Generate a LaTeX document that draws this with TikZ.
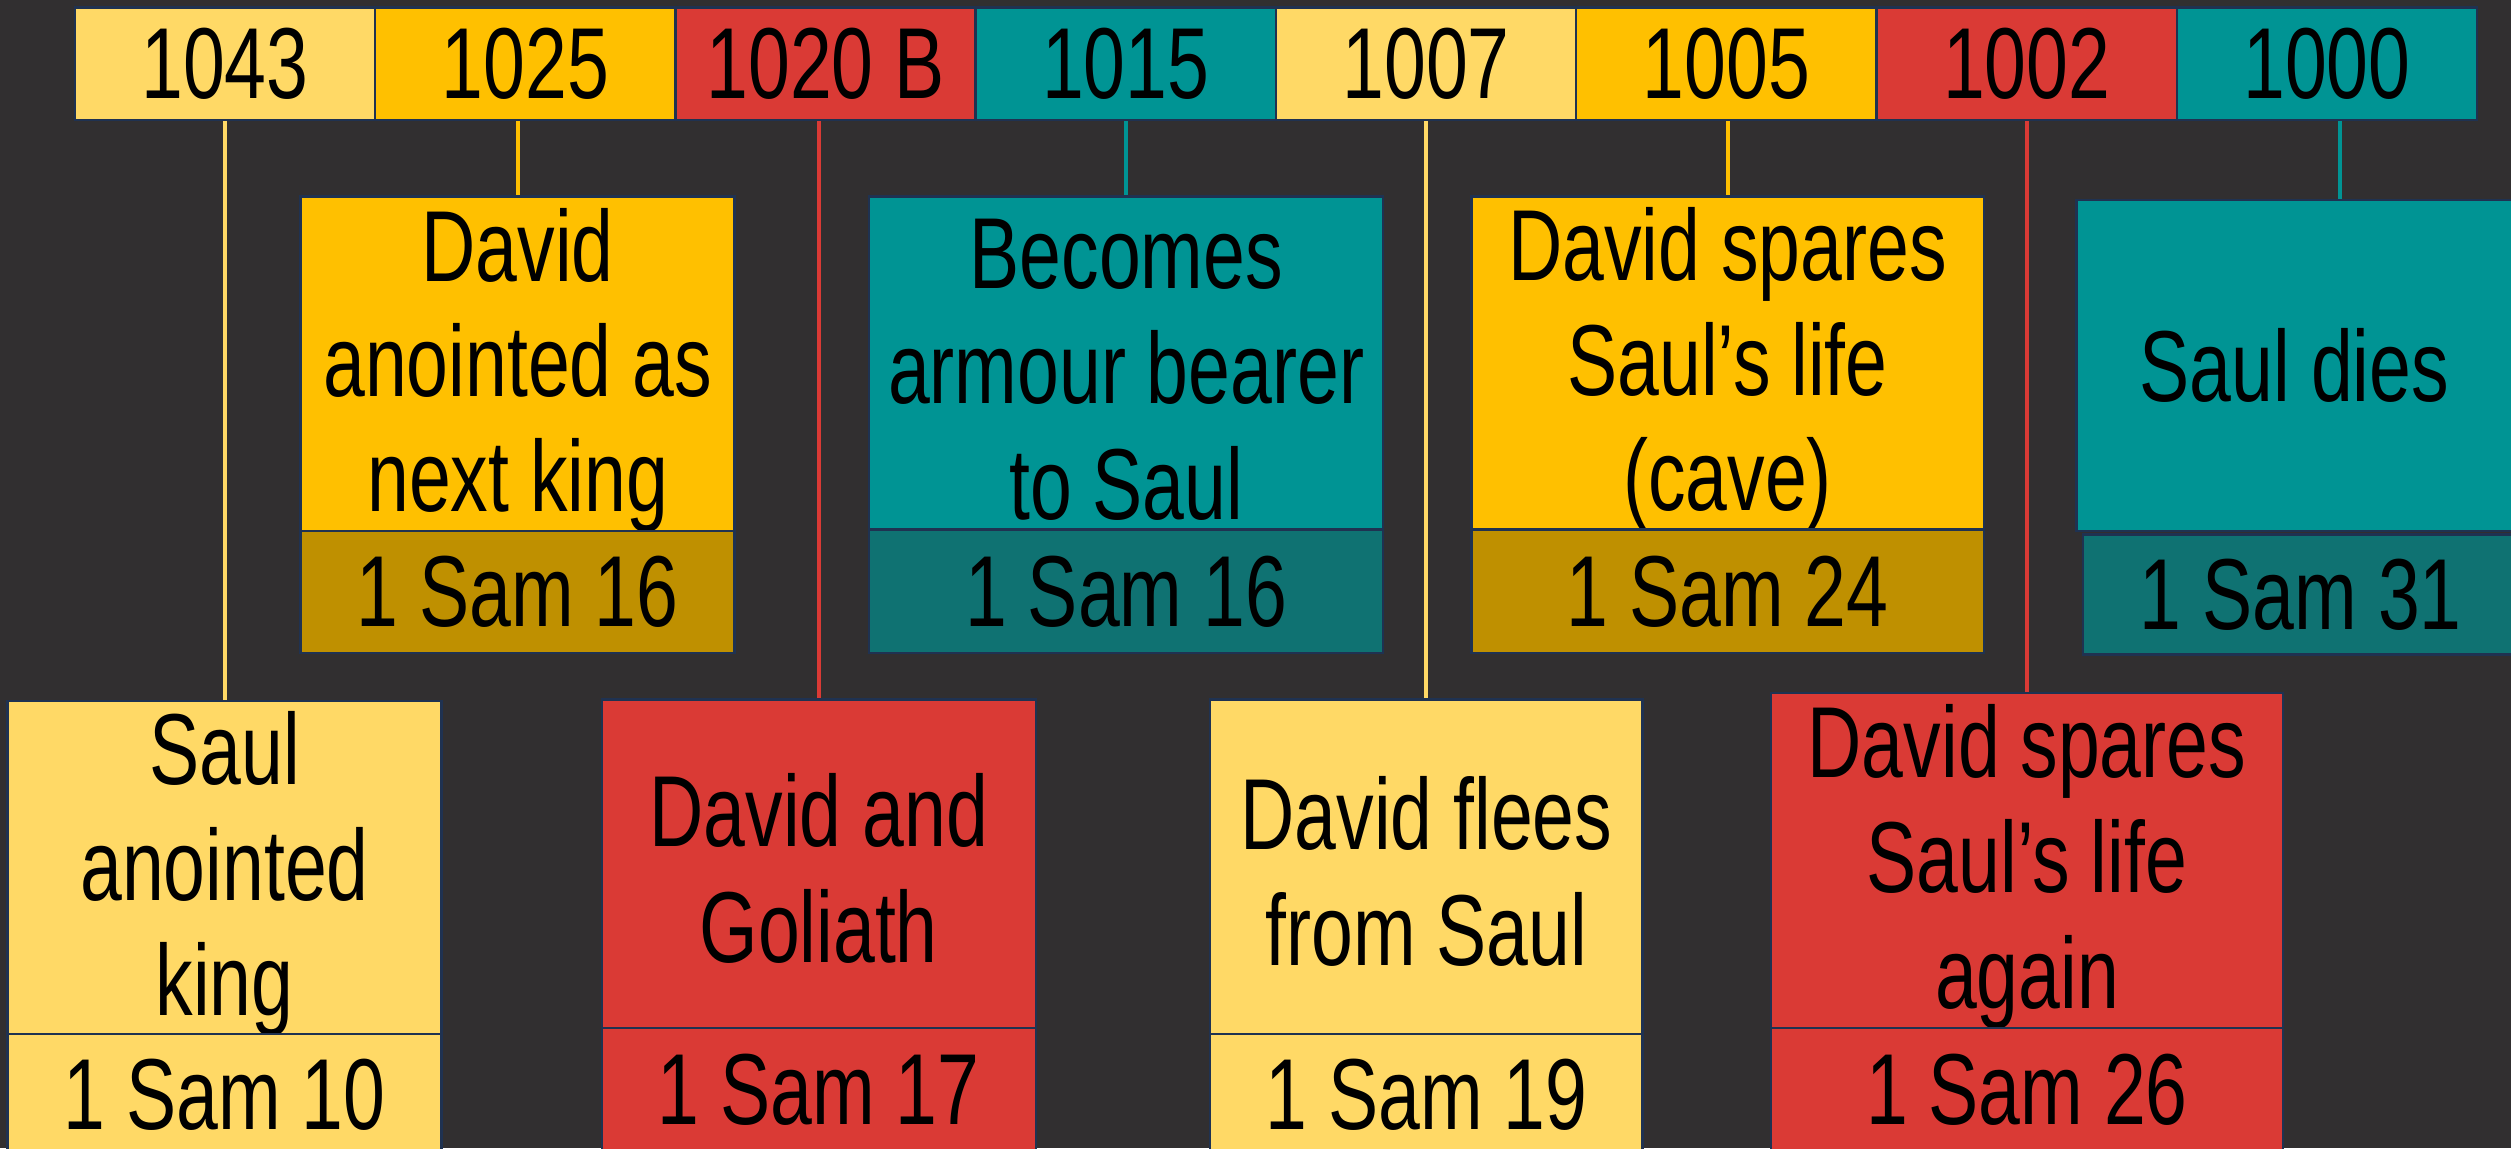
\documentclass[tikz,border=0pt]{standalone}
\usepackage{fontspec}
\setmainfont{Liberation Sans}[FakeStretch=0.745]
\definecolor{bg}{HTML}{312F30}
\definecolor{navy}{HTML}{1F3251}
\definecolor{ly}{HTML}{FFD966}
\definecolor{am}{HTML}{FFC000}
\definecolor{rd}{HTML}{DA3A35}
\definecolor{tl}{HTML}{009494}
\definecolor{dam}{HTML}{BF9000}
\definecolor{dtl}{HTML}{0F7272}
\begin{document}
\begin{tikzpicture}[x=1pt,y=-1pt,
  fnt/.style={font=\fontsize{63}{72}\selectfont, text=black},
  box/.style={draw=navy, line width=1.5pt, inner sep=0pt, anchor=north west, align=center, fnt},
  yr/.style={box, minimum width=187.5pt, minimum height=70pt},
  txt/.style={align=center, fnt, inner sep=0pt, yshift=-4pt},
  conn/.style={line width=2.5pt}]
\fill[bg] (0,0) rectangle (1568,717);
\useasboundingbox (0,0) rectangle (1568,717);

% top bar
\node[yr, fill=ly] (t1043) at (46,4) {1043};
\node[yr, fill=am] (t1025) at (233.5,4) {1025};
\node[yr, fill=rd] (t1020) at (421,4) {1020 B};
\node[yr, fill=tl] (t1015) at (608.5,4) {1015};
\node[yr, fill=ly] (t1007) at (796,4) {1007};
\node[yr, fill=am] (t1005) at (983.5,4) {1005};
\node[yr, fill=rd] (t1002) at (1171,4) {1002};
\node[yr, fill=tl] (t1000) at (1358.5,4) {1000};

% upper events
\node[box, fill=am, minimum width=271pt, minimum height=209pt,
  label={[txt]center:David\\anointed as\\next king}] (e1025) at (187,122) {};
\node[box, fill=dam, minimum width=271pt, minimum height=76pt] (r1025) at (187,331) {1 Sam 16};
\node[box, fill=tl, minimum width=321pt, minimum height=208pt,
  label={[txt]center:Becomes\\armour bearer\\to Saul}] (e1015) at (542,122) {};
\node[box, fill=dtl, minimum width=321pt, minimum height=77pt] (r1015) at (542,330) {1 Sam 16};
\node[box, fill=am, minimum width=320pt, minimum height=208pt,
  label={[txt]center:David spares\\Saul’s life\\(cave)}] (e1005) at (918,122) {};
\node[box, fill=dam, minimum width=320pt, minimum height=77pt] (r1005) at (918,330) {1 Sam 24};
\node[box, fill=tl, minimum width=272pt, minimum height=207pt] (e1000) at (1296,124) {Saul dies};
\node[box, fill=dtl, minimum width=272pt, minimum height=75pt] (r1000) at (1300,333) {1 Sam 31};

% lower events
\node[box, fill=ly, minimum width=271pt, minimum height=208pt,
  label={[txt]center:Saul\\anointed\\king}] (e1043) at (4,437) {};
\node[box, fill=ly, minimum width=271pt, minimum height=76pt] (r1043) at (4,645) {1 Sam 10};
\node[box, fill=rd, minimum width=271pt, minimum height=205pt,
  label={[txt,yshift=1pt]center:David and\\Goliath}] (e1020) at (375,436) {};
\node[box, fill=rd, minimum width=271pt, minimum height=78pt] (r1020) at (375,641) {1 Sam 17};
\node[box, fill=ly, minimum width=270pt, minimum height=209pt,
  label={[txt,yshift=1pt]center:David flees\\from Saul}] (e1007) at (755,436) {};
\node[box, fill=ly, minimum width=270pt, minimum height=76pt] (r1007) at (755,645) {1 Sam 19};
\node[box, fill=rd, minimum width=320pt, minimum height=209pt,
  label={[txt]center:David spares\\Saul’s life\\again}] (e1002) at (1105,432) {};
\node[box, fill=rd, minimum width=320pt, minimum height=78pt] (r1002) at (1105,641) {1 Sam 26};

% connectors
\draw[conn, ly] (e1043.north |- t1043.south) -- (e1043.north);
\draw[conn, am] (e1025.north |- t1025.south) -- (e1025.north);
\draw[conn, rd] (e1020.north |- t1020.south) -- (e1020.north);
\draw[conn, tl] (e1015.north |- t1015.south) -- (e1015.north);
\draw[conn, ly] (e1007.north |- t1007.south) -- (e1007.north);
\draw[conn, am] (e1005.north |- t1005.south) -- (e1005.north);
\draw[conn, rd] (e1002.north |- t1002.south) -- (e1002.north);
\draw[conn, tl] ([xshift=8.5pt]t1000.south) -- ([xshift=8.5pt]t1000.south |- e1000.north);
\end{tikzpicture}
\end{document}
